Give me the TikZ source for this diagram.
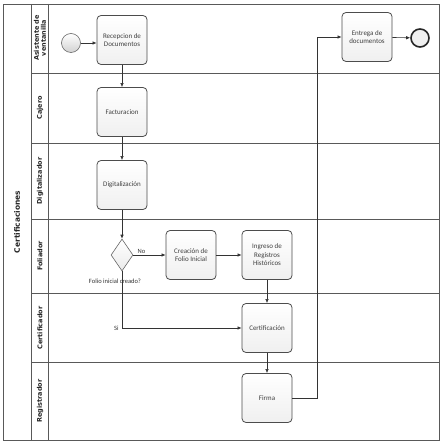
\documentclass[tikz,border=0pt]{standalone}
\usepackage{fontspec}
\setmainfont{Carlito}
\newfontfamily\lanefont{DejaVu Sans}
\usetikzlibrary{shapes.geometric,arrows.meta}
\begin{document}
\begin{tikzpicture}[x=1pt,y=-1pt,
 task/.style={draw=black!70, line width=0.8pt, rounded corners=4pt, top color=white, bottom color=black!6, minimum width=50pt, minimum height=49pt, align=center, font=\fontsize{7}{8.5}\selectfont, text=black!75, inner sep=1pt},
 flow/.style={draw=black!80, line width=0.6pt, -{Latex[length=4pt,width=3.5pt]}},
 lane/.style={draw=black!65, line width=0.6pt},
 lanelabel/.style={rotate=90, font=\lanefont\bfseries\fontsize{6.5}{7}\selectfont, align=center, text=black!85},
 lbl/.style={font=\fontsize{6.5}{7.5}\selectfont, text=black!80, inner sep=1pt},
]
\useasboundingbox (0,0) rectangle (443,443);
\draw[lane] (3,4) rectangle (439,440);
\draw[lane] (31,4) -- (31,440);
\draw[lane] (48,4) -- (48,440);
\foreach \yy in {73,143,219,293,362} \draw[lane] (31,\yy) -- (439,\yy);

\node[lanelabel, font=\lanefont\bfseries\fontsize{7.5}{8}\selectfont] (pool) at (17,222) {Certificaciones};
\node[lanelabel] (l1) at (40,38) {Asistente de\\ventanilla};
\node[lanelabel] (l2) at (40,108) {Cajero};
\node[lanelabel] (l3) at (40,181) {Digitalizador};
\node[lanelabel] (l4) at (40,256) {Foliador};
\node[lanelabel] (l5) at (40,328) {Certificador};
\node[lanelabel] (l6) at (40,401) {Registrador};

\node[circle, draw=black!60, line width=0.6pt, top color=white, bottom color=black!18, minimum size=19pt, inner sep=0] (start) at (71,43) {};
\node[task] (rec) at (122,40) {Recepcion de\\Documentos};
\node[task] (fac) at (122,112) {Facturacion};
\node[task] (dig) at (122,185) {Digitalización};
\node[diamond, draw=black!60, line width=0.6pt, top color=white, bottom color=black!8, minimum width=22pt, minimum height=32pt, aspect=0.69, inner sep=0] (gw) at (122,255) {};
\node[task] (cre) at (191,255) {Creación de\\Folio Inicial};
\node[task] (ing) at (267,255) {Ingreso de\\Registros\\Históricos};
\node[task] (cert) at (267,328) {Certificación};
\node[task] (firma) at (267,398) {Firma};
\node[task] (ent) at (367,37) {Entrega de\\documentos};
\node[circle, draw=black!85, line width=1.6pt, fill=black!6, minimum size=18pt, inner sep=0] (end) at (420,38) {};
\node[lbl] (q) at (115,281) {Folio inicial creado?};

\draw[flow] (start.east) -- (start.east -| rec.west);
\draw[flow] (rec) -- (fac);
\draw[flow] (fac) -- (dig);
\draw[flow] (dig) -- (gw);
\draw[flow] (gw) -- node[lbl, above, pos=0.25] {No} (cre);
\draw[flow] (cre) -- (ing);
\draw[flow] (ing) -- (cert);
\draw[flow] (gw.south) |- node[lbl, pos=0.5, anchor=east, xshift=-2pt] {Si} (cert.west);
\draw[flow] (cert) -- (firma);
\coordinate (bend) at (317,398);
\draw[flow] (firma.east) -- (bend) |- (ent.west);
\draw[flow] (ent) -- (end);
\end{tikzpicture}
\end{document}
